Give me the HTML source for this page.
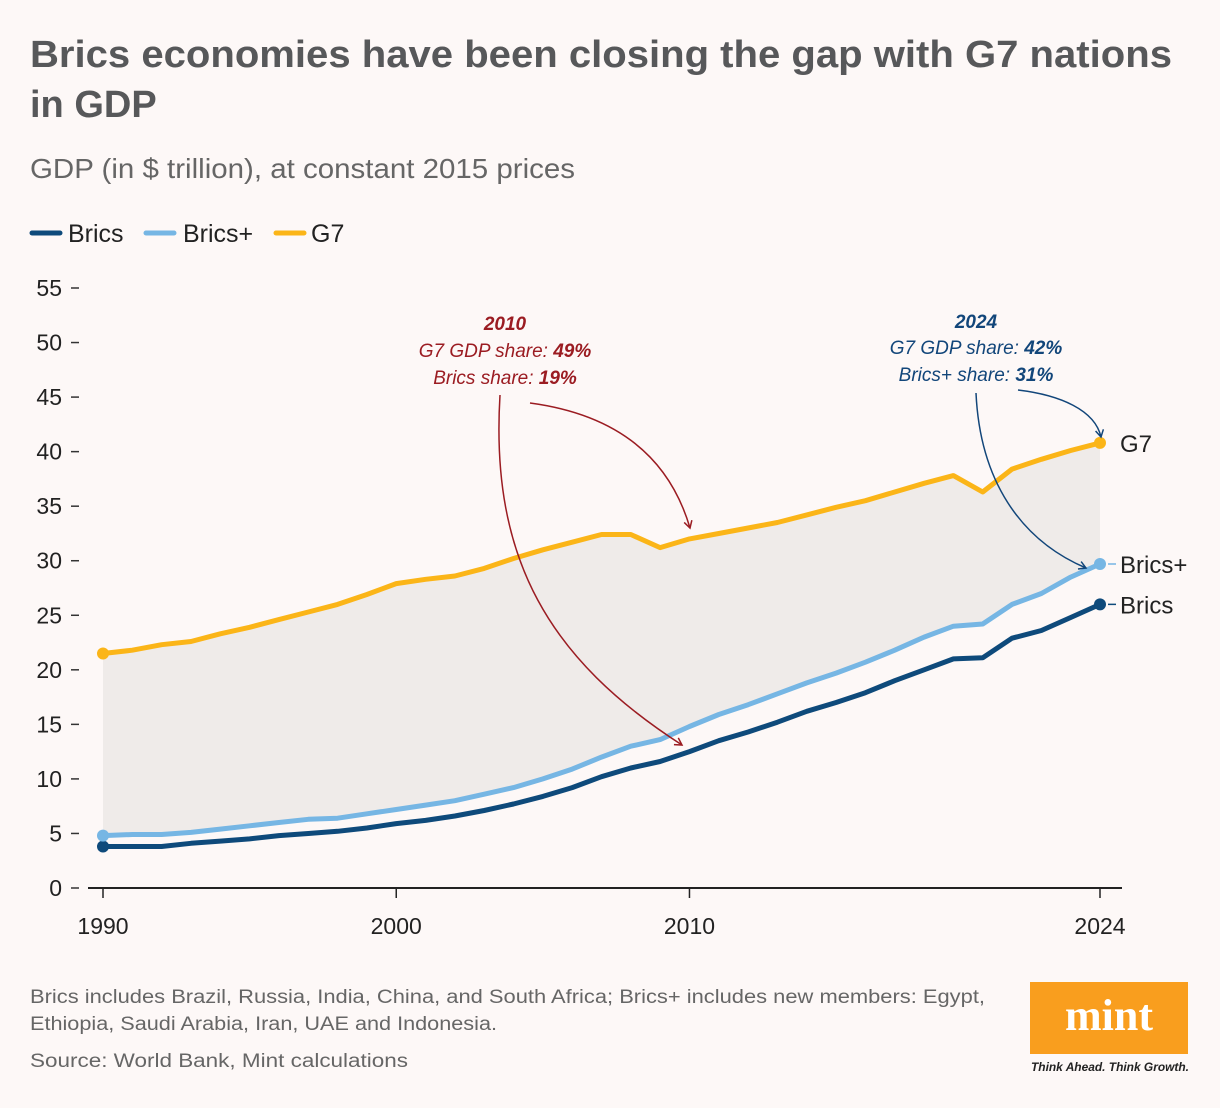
<!DOCTYPE html>
<html><head><meta charset="utf-8"><style>
html,body{margin:0;padding:0;background:#fdf8f7;}
svg{display:block;font-family:"Liberation Sans",sans-serif;}
</style></head><body>
<svg id="chart" width="1220" height="1108" viewBox="0 0 1220 1108">
<rect width="1220" height="1108" fill="#fdf8f7"/>
<text x="30" y="67" font-size="38" font-weight="bold" fill="#57585a" textLength="1142" lengthAdjust="spacingAndGlyphs">Brics economies have been closing the gap with G7 nations</text>
<text x="30" y="117" font-size="38" font-weight="bold" fill="#57585a">in GDP</text>
<text x="30" y="178" font-size="28" fill="#666" textLength="545" lengthAdjust="spacingAndGlyphs">GDP (in $ trillion), at constant 2015 prices</text>
<g>
<line x1="32" y1="233" x2="60" y2="233" stroke="#0e4a7b" stroke-width="5" stroke-linecap="round"/>
<text x="68" y="242" font-size="25" fill="#222">Brics</text>
<line x1="146" y1="233" x2="174" y2="233" stroke="#76b6e4" stroke-width="5" stroke-linecap="round"/>
<text x="183" y="242" font-size="25" fill="#222">Brics+</text>
<line x1="276" y1="233" x2="304" y2="233" stroke="#fbb518" stroke-width="5" stroke-linecap="round"/>
<text x="311" y="242" font-size="25" fill="#222">G7</text>
</g>
<g id="axes"></g>
<g id="plot"></g>
<g font-style="italic" font-size="19" fill="#9b1c22" text-anchor="middle">
<text x="505" y="330" font-weight="bold">2010</text>
<text x="505" y="357">G7 GDP share: <tspan font-weight="bold">49%</tspan></text>
<text x="505" y="384">Brics share: <tspan font-weight="bold">19%</tspan></text>
</g>
<g font-style="italic" font-size="19" fill="#12467a" text-anchor="middle">
<text x="976" y="328" font-weight="bold">2024</text>
<text x="976" y="354">G7 GDP share: <tspan font-weight="bold">42%</tspan></text>
<text x="976" y="381">Brics+ share: <tspan font-weight="bold">31%</tspan></text>
</g>
<defs>
<marker id="ar" markerWidth="10" markerHeight="10" refX="8" refY="5" orient="auto" markerUnits="userSpaceOnUse"><path d="M1,1 L8,5 L1,9" fill="none" stroke="#9b1c22" stroke-width="1.5"/></marker>
<marker id="ab" markerWidth="10" markerHeight="10" refX="8" refY="5" orient="auto" markerUnits="userSpaceOnUse"><path d="M1,1 L8,5 L1,9" fill="none" stroke="#12467a" stroke-width="1.5"/></marker>
</defs>
<path d="M530,403 C620,415 670,460 690,528" fill="none" stroke="#9b1c22" stroke-width="1.5" marker-end="url(#ar)"/>
<path d="M500,395 C490,560 550,660 682,745" fill="none" stroke="#9b1c22" stroke-width="1.5" marker-end="url(#ar)"/>
<path d="M1018,390 C1060,395 1095,410 1101,437" fill="none" stroke="#12467a" stroke-width="1.5" marker-end="url(#ab)"/>
<path d="M976,393 C980,480 1020,540 1086,568" fill="none" stroke="#12467a" stroke-width="1.5" marker-end="url(#ab)"/>
<text x="30" y="1003" font-size="19" fill="#666" textLength="955" lengthAdjust="spacingAndGlyphs">Brics includes Brazil, Russia, India, China, and South Africa; Brics+ includes new members: Egypt,</text>
<text x="30" y="1030" font-size="19" fill="#666" textLength="467" lengthAdjust="spacingAndGlyphs">Ethiopia, Saudi Arabia, Iran, UAE and Indonesia.</text>
<text x="30" y="1067" font-size="19" fill="#666" textLength="378" lengthAdjust="spacingAndGlyphs">Source: World Bank, Mint calculations</text>
<g>
<rect x="1030" y="982" width="158" height="72" fill="#f99e1e"/>
<text x="1109" y="1030" font-family="Liberation Serif,serif" font-weight="bold" font-size="44" fill="#fff" text-anchor="middle">mint</text>
<text x="1110" y="1071" font-size="12" font-style="italic" font-weight="bold" fill="#222" text-anchor="middle" textLength="158" lengthAdjust="spacingAndGlyphs">Think Ahead. Think Growth.</text>
</g>
</svg>
<script>
const years=[1990,1991,1992,1993,1994,1995,1996,1997,1998,1999,2000,2001,2002,2003,2004,2005,2006,2007,2008,2009,2010,2011,2012,2013,2014,2015,2016,2017,2018,2019,2020,2021,2022,2023,2024];
const g7=[21.5,21.8,22.3,22.6,23.3,23.9,24.6,25.3,26.0,26.9,27.9,28.3,28.6,29.3,30.2,31.0,31.7,32.4,32.4,31.2,32.0,32.5,33.0,33.5,34.2,34.9,35.5,36.3,37.1,37.8,36.3,38.4,39.3,40.1,40.8];
const bricsPlus=[4.8,4.9,4.9,5.1,5.4,5.7,6.0,6.3,6.4,6.8,7.2,7.6,8.0,8.6,9.2,10.0,10.9,12.0,13.0,13.6,14.8,15.9,16.8,17.8,18.8,19.7,20.7,21.8,23.0,24.0,24.2,26.0,27.0,28.5,29.7];
const brics=[3.8,3.8,3.8,4.1,4.3,4.5,4.8,5.0,5.2,5.5,5.9,6.2,6.6,7.1,7.7,8.4,9.2,10.2,11.0,11.6,12.5,13.5,14.3,15.2,16.2,17.0,17.9,19.0,20.0,21.0,21.1,22.9,23.6,24.8,26.0];
const yTicks=[0,5,10,15,20,25,30,35,40,45,50,55];
const xTicks=[1990,2000,2010,2024];
const NS='http://www.w3.org/2000/svg';
const X=y=>103+(y-1990)*(997/34);
const Y=v=>888-v*(600/55);
function mk(t,a,p){const e=document.createElementNS(NS,t);for(const k in a)e.setAttribute(k,a[k]);p.appendChild(e);return e;}
const axes=document.getElementById('axes'),plot=document.getElementById('plot');
yTicks.forEach(v=>{
 const l=mk('line',{x1:71,x2:79,y1:Y(v),y2:Y(v),stroke:'#333','stroke-width':1.5},axes);
 
 
 const t=mk('text',{x:62,y:Y(v)+8,'font-size':23,fill:'#222','text-anchor':'end'},axes);
 t.textContent=v;
 
 
});
const ax=mk('line',{x1:88,x2:1122,y1:888,y2:888,stroke:'#222','stroke-width':2},axes);


xTicks.forEach(yr=>{
 const l=mk('line',{x1:X(yr),x2:X(yr),y1:888,y2:898,stroke:'#222','stroke-width':1.5},axes);
 
 
 const t=mk('text',{x:X(yr),y:934,'font-size':23,fill:'#222','text-anchor':'middle'},axes);
 t.textContent=yr;
 
 
});
const pts=arr=>arr.map((v,i)=>X(years[i]).toFixed(1)+','+Y(v).toFixed(1));
const area=mk('polygon',{points:pts(g7).concat(pts(bricsPlus).reverse()).join(' '),fill:'#efebe9'},plot);


[[brics,'#0e4a7b','brics'],[bricsPlus,'#76b6e4','brics-plus'],[g7,'#fbb518','g7']].forEach(([arr,c,n])=>{
 const p=mk('polyline',{points:pts(arr).join(' '),fill:'none',stroke:c,'stroke-width':5,'stroke-linejoin':'round'},plot);
 
 
 [0,arr.length-1].forEach(i=>{
  const d=mk('circle',{cx:X(years[i]),cy:Y(arr[i]),r:6,fill:c},plot);
  
  
 });
});
[[g7,'G7','#333'],[bricsPlus,'Brics+','#76b6e4'],[brics,'Brics','#0e4a7b']].forEach(([arr,lab,c])=>{
 const v=arr[arr.length-1],x=X(2024);
 if(lab!=='G7'){const l=mk('line',{x1:x+8,x2:x+16,y1:Y(v),y2:Y(v),stroke:c,'stroke-width':1.5},plot);
  
  }
 const t=mk('text',{x:x+20,y:Y(v)+9,'font-size':24,fill:'#222'},plot);
 t.textContent=lab;
 
 
});
</script>
</body></html>
